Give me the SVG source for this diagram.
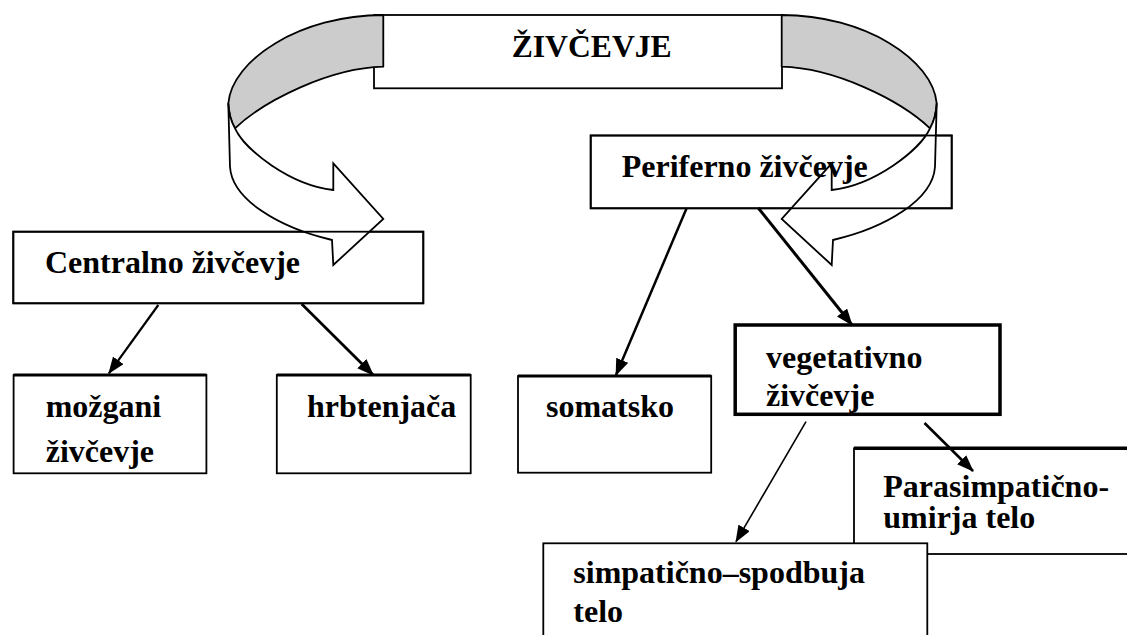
<svg xmlns="http://www.w3.org/2000/svg" width="1127" height="635" viewBox="0 0 1127 635">
<style>
.box{fill:#fff;stroke:#000;stroke-width:1.8}
.outline{fill:none;stroke:#000;stroke-width:1.8}
.thick{fill:#fff;stroke:#000;stroke-width:3.5}
.t{font-family:"Liberation Serif","Times New Roman",serif;font-weight:bold;font-size:32px;fill:#000}
.gray{fill:#cccccc;stroke:#000;stroke-width:1.8;stroke-linejoin:round}
.rib{fill:#fff;stroke:#000;stroke-width:1.8;stroke-linejoin:miter}
.c{stroke:#000;fill:none}
</style>
<defs>
<marker id="ah" markerUnits="userSpaceOnUse" markerWidth="17" markerHeight="13" refX="16" refY="6.5" orient="auto" viewBox="0 0 17 13">
<path d="M0,0 L17,6.5 L0,13 Z" fill="#000"/>
</marker>
<g id="ribbon">
<path class="gray" d="M383.3,15 C300,15 232,60 228.3,103.3 Q229,118 235,128.3 C265,100 330,68 383.3,66.7 Z"/>
<path class="rib" d="M235,128.3 C245,150 290,185 333.3,190 L333.3,163.3 L383.3,219 L333.3,265 L332,240 C280,228 232,200 230,166.7 L228.3,103.3 Q229,118 235,128.3 Z"/>
</g>
</defs>

<g id="title">
<rect class="box" x="374" y="15" width="408" height="73.3"/>
</g>

<g id="centralno">
<rect class="box" x="13.3" y="231.7" width="410" height="71.6"/>
</g>

<g id="periferno">
<rect class="box" x="590.7" y="135.5" width="361" height="72.8"/>
</g>

<g id="arrows-curved">
<use href="#ribbon"/>
<use href="#ribbon" transform="matrix(-1 0 0 1 1165 0)"/>
</g>

<g id="title-text">
<text class="t" x="511.7" y="56.7" textLength="160" lengthAdjust="spacingAndGlyphs">ŽIVČEVJE</text>
</g>
<g id="centralno-text">
<rect class="outline" x="13.3" y="231.7" width="410" height="71.6"/>
<text class="t" x="45" y="273.3">Centralno živčevje</text>
</g>
<g id="periferno-text">
<rect class="outline" x="590.7" y="135.5" width="361" height="72.8"/>
<text class="t" x="621.7" y="177.3">Periferno živčevje</text>
</g>

<g id="mozgani">
<rect class="box" x="13.6" y="375" width="192.8" height="98.3"/>
<line x1="13.6" y1="375" x2="206.4" y2="375" stroke="#000" stroke-width="3"/>
<text class="t" x="45.7" y="417.3">možgani</text>
<text class="t" x="45.7" y="461.7">živčevje</text>
</g>

<g id="hrbtenjaca">
<rect class="box" x="276.8" y="375" width="193.9" height="98.3"/>
<line x1="276.8" y1="375" x2="470.7" y2="375" stroke="#000" stroke-width="3"/>
<text class="t" x="307" y="417.3">hrbtenjača</text>
</g>

<g id="somatsko">
<rect class="box" x="518" y="376" width="193.2" height="96.7"/>
<line x1="518" y1="376" x2="711.2" y2="376" stroke="#000" stroke-width="3"/>
<text class="t" x="546" y="416.7">somatsko</text>
</g>

<g id="vegetativno">
<rect class="thick" x="735.2" y="325" width="264.8" height="89.3"/>
<text class="t" x="766" y="368.3">vegetativno</text>
<text class="t" x="766" y="406">živčevje</text>
</g>

<g id="parasimpaticno">
<rect class="box" x="854" y="448.3" width="290" height="105.7"/>
<line x1="854" y1="448.3" x2="1127" y2="448.3" stroke="#000" stroke-width="3.5"/>
<text class="t" x="883.3" y="496.7">Parasimpatično-</text>
<text class="t" x="883.3" y="528.3">umirja telo</text>
</g>

<g id="simpaticno">
<rect class="box" x="543.3" y="543.3" width="384" height="110"/>
<text class="t" x="573.3" y="583.3">simpatično–spodbuja</text>
<text class="t" x="573.3" y="621.7">telo</text>
</g>

<g id="connectors">
<line class="c" stroke-width="2.2" x1="158.3" y1="305" x2="108.9" y2="373.3" marker-end="url(#ah)"/>
<line class="c" stroke-width="2.8" x1="301.7" y1="304" x2="373.2" y2="375" marker-end="url(#ah)"/>
<line class="c" stroke-width="2.5" x1="686.7" y1="208" x2="616" y2="375" marker-end="url(#ah)"/>
<line class="c" stroke-width="3" x1="758.3" y1="208" x2="852" y2="325" marker-end="url(#ah)"/>
<line class="c" stroke-width="1.6" x1="806" y1="421.7" x2="736" y2="541.7" marker-end="url(#ah)"/>
<line class="c" stroke-width="2.6" x1="924.5" y1="423" x2="973" y2="471" marker-end="url(#ah)"/>
</g>
</svg>
